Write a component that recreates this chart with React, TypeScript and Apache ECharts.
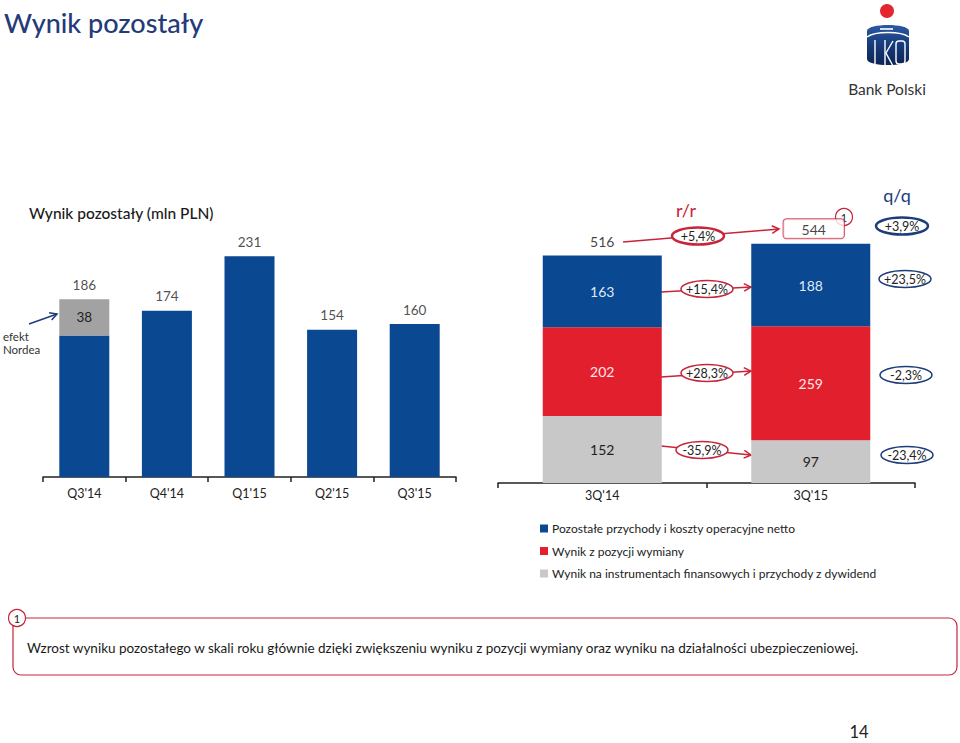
import React, { useEffect, useRef } from "react";
import * as echarts from "echarts";

// ---------- data ----------
const quarters = ["Q3'14", "Q4'14", "Q1'15", "Q2'15", "Q3'15"];
const quarterBase = [148, 174, 231, 154, 160];
const quarterNordea = [38, null, null, null, null];
const quarterTotals = [186, 174, 231, 154, 160];

const periods = ["3Q'14", "3Q'15"];
const otherOps = [163, 188];
const fxResult = [202, 259];
const finInstr = [152, 97];
const periodTotals = [516, 544];

const seriesNames = [
  "Pozostałe przychody i koszty operacyjne netto",
  "Wynik z pozycji wymiany",
  "Wynik na instrumentach finansowych i przychody z dywidend",
];
const yoyTotal = "+5,4%";
const yoyChanges = ["+15,4%", "+28,3%", "-35,9%"];
const qoqTotal = "+3,9%";
const qoqChanges = ["+23,5%", "-2,3%", "-23,4%"];

const BLUE = "#0a4891";
const RED = "#e21f2d";
const GRAY = "#c8c8c8";
const LGRAY = "#a2a2a2";
const ARED = "#c8243a";
const ABLUE = "#1d3c7a";
const FONT = "Lato, 'Noto Sans', sans-serif";

let registered = false;
function registerLogo() {
  if (registered) return;
  registered = true;
  echarts.graphic.registerShape(
    "pkoBody",
    echarts.graphic.extendPath(
      "M1,9 C1,1 43,1 43,9 L43,37 C43,45 1,45 1,37 Z",
      {}
    )
  );
}

function arrow(x1: number, y1: number, x2: number, y2: number, color: string, lw = 1.5) {
  const a = Math.atan2(y2 - y1, x2 - x1);
  const L = 8;
  const s = 0.5;
  const p1 = [x2 - L * Math.cos(a - s), y2 - L * Math.sin(a - s)];
  const p2 = [x2 - L * Math.cos(a + s), y2 - L * Math.sin(a + s)];
  return [
    { type: "line", shape: { x1, y1, x2, y2 }, style: { stroke: color, lineWidth: lw } },
    { type: "polyline", shape: { points: [p1, [x2, y2], p2] }, style: { stroke: color, lineWidth: lw, fill: null } },
  ];
}

function ellipseLabel(cx: number, cy: number, text: string, color: string, lw: number) {
  return [
    { type: "ellipse", shape: { cx, cy, rx: 26, ry: 8.5 }, style: { fill: "#fff", stroke: color, lineWidth: lw } },
    {
      type: "text",
      x: cx,
      y: cy + 0.5,
      style: { text, fill: "#222", fontSize: 12.5, fontFamily: FONT, align: "center", verticalAlign: "middle" },
    },
  ];
}

function numCircle(cx: number, cy: number) {
  return [
    { type: "circle", shape: { cx, cy, r: 8.5 }, style: { fill: "#fff", stroke: ARED, lineWidth: 1.2 } },
    {
      type: "text",
      x: cx,
      y: cy + 0.5,
      style: { text: "1", fill: "#222", fontSize: 11, fontFamily: FONT, align: "center", verticalAlign: "middle" },
    },
  ];
}

export default function App() {
  const ref = useRef<HTMLDivElement>(null);
  useEffect(() => {
    if (!ref.current) return;
    registerLogo();
    const chart = echarts.init(ref.current, null, { renderer: "svg" });

    const graphics: any[] = [
      // page title
      { type: "text", x: 4, y: 22, style: { text: "Wynik pozostały", fill: "#243b78", fontSize: 27, fontFamily: FONT, fontWeight: 500, verticalAlign: "middle" } },
      // logo
      { type: "circle", shape: { cx: 887, cy: 11, r: 7 }, style: { fill: "#e3262f" } },
      {
        type: "pkoBody",
        x: 866,
        y: 22,
        style: {
          fill: new echarts.graphic.LinearGradient(0, 0, 0, 1, [
            { offset: 0, color: "#2c5aa3" },
            { offset: 0.5, color: "#163a7a" },
            { offset: 1, color: "#0d2455" },
          ]),
        },
      },
      { type: "line", shape: { x1: 880, y1: 29, x2: 893, y2: 29 }, style: { stroke: "#fff", lineWidth: 1.6 } },
      { type: "bezierCurve", shape: { x1: 867, y1: 37, x2: 909, y2: 37, cpx1: 875, cpy1: 31, cpx2: 901, cpy2: 31 }, style: { stroke: "#fff", lineWidth: 1.4, fill: null } },
      { type: "line", shape: { x1: 875, y1: 40, x2: 875, y2: 65 }, style: { stroke: "#fff", lineWidth: 1.4 } },
      { type: "line", shape: { x1: 885, y1: 40, x2: 885, y2: 66 }, style: { stroke: "#fff", lineWidth: 1.4 } },
      { type: "polyline", shape: { points: [[893, 41], [886, 53], [893, 66]] }, style: { stroke: "#fff", lineWidth: 1.4, fill: null } },
      { type: "rect", shape: { x: 896, y: 41, width: 9, height: 23, r: 3 }, style: { stroke: "#fff", lineWidth: 1.4, fill: null } },
      { type: "text", x: 887, y: 89, style: { text: "Bank Polski", fill: "#333", fontSize: 15.5, fontFamily: FONT, align: "center", verticalAlign: "middle" } },
      // left chart title
      { type: "text", x: 29, y: 213, style: { text: "Wynik pozostały (mln PLN)", fill: "#1a1a1a", fontSize: 15.5, fontFamily: FONT, fontWeight: 500, verticalAlign: "middle" } },
      // efekt Nordea
      { type: "text", x: 3, y: 336, style: { text: "efekt", fill: "#333", fontSize: 11.5, fontFamily: FONT, verticalAlign: "middle" } },
      { type: "text", x: 3, y: 349, style: { text: "Nordea", fill: "#333", fontSize: 11.5, fontFamily: FONT, verticalAlign: "middle" } },
      ...arrow(29, 324, 57, 314, ABLUE, 1.5),
      // r/r and q/q headers
      { type: "text", x: 686, y: 210, style: { text: "r/r", fill: ARED, fontSize: 18, fontFamily: FONT, align: "center", verticalAlign: "middle" } },
      { type: "text", x: 897, y: 195, style: { text: "q/q", fill: ABLUE, fontSize: 18, fontFamily: FONT, align: "center", verticalAlign: "middle" } },
      // y/y arrows
      ...arrow(623, 242, 779, 229, ARED, 1.5),
      ...arrow(661, 292, 751, 287, ARED, 1.5),
      ...arrow(661, 377, 751, 371, ARED, 1.5),
      ...arrow(661, 446, 751, 455, ARED, 1.5),
      ...ellipseLabel(698, 236, yoyTotal, ARED, 2.5),
      ...ellipseLabel(707, 289, yoyChanges[0], ARED, 1.5),
      ...ellipseLabel(707, 373, yoyChanges[1], ARED, 1.5),
      ...ellipseLabel(702, 450, yoyChanges[2], ARED, 1.5),
      // q/q ellipses
      ...ellipseLabel(902, 226, qoqTotal, ABLUE, 2.5),
      ...ellipseLabel(905, 279, qoqChanges[0], ABLUE, 1.5),
      ...ellipseLabel(906, 375, qoqChanges[1], ABLUE, 1.5),
      ...ellipseLabel(907, 455, qoqChanges[2], ABLUE, 1.5),
      ...numCircle(844, 217),
      // footnote box
      { type: "rect", shape: { x: 13, y: 618, width: 944, height: 57, r: 8 }, style: { fill: "#fff", stroke: ARED, lineWidth: 1.2 } },
      ...numCircle(17, 618),
      { type: "text", x: 27, y: 648, style: { text: "Wzrost wyniku pozostałego w skali roku głównie dzięki zwiększeniu wyniku z pozycji wymiany oraz wyniku na działalności ubezpieczeniowej.", fill: "#1a1a1a", fontSize: 13.5, fontFamily: FONT, verticalAlign: "middle" } },
      { type: "text", x: 859, y: 732, style: { text: "14", fill: "#222", fontSize: 16.5, fontFamily: FONT, align: "center", verticalAlign: "middle" } },
    ];

    const axisCommon = {
      type: "category",
      axisLine: { show: true, lineStyle: { color: "#222", width: 1.5 } },
      axisTick: { show: true, length: 5, lineStyle: { color: "#222", width: 1.5 }, alignWithLabel: false },
      axisLabel: { color: "#222", fontSize: 12.5, fontFamily: FONT },
    };

    chart.setOption({
      animation: false,
      backgroundColor: "#fff",
      textStyle: { fontFamily: FONT },
      grid: [
        { left: 43, top: 238, width: 413, height: 239 },
        { left: 498, top: 219, width: 417, height: 264 },
      ],
      xAxis: [
        { ...axisCommon, gridIndex: 0, data: quarters, axisLabel: { ...axisCommon.axisLabel, margin: 10 } },
        { ...axisCommon, gridIndex: 1, data: periods, axisLabel: { ...axisCommon.axisLabel, margin: 6 } },
      ],
      yAxis: [
        { type: "value", gridIndex: 0, min: 0, max: 250, show: false, splitLine: { show: false } },
        { type: "value", gridIndex: 1, min: 0, max: 600, show: false, splitLine: { show: false } },
      ],
      legend: {
        orient: "vertical",
        left: 535,
        top: 516,
        itemWidth: 8,
        itemHeight: 8,
        itemGap: 7.5,
        icon: "rect",
        selectedMode: false,
        data: seriesNames,
        textStyle: { color: "#222", fontSize: 12, fontFamily: FONT, lineHeight: 15, padding: [0, 0, 0, -1] },
      },
      series: [
        {
          name: "base",
          type: "bar",
          xAxisIndex: 0,
          yAxisIndex: 0,
          stack: "q",
          barWidth: 50,
          data: quarterBase,
          itemStyle: { color: BLUE },
        },
        {
          name: "nordea",
          type: "bar",
          xAxisIndex: 0,
          yAxisIndex: 0,
          stack: "q",
          barWidth: 50,
          data: quarterNordea,
          itemStyle: { color: LGRAY },
          label: { show: true, position: "inside", color: "#222", fontSize: 13.5, fontFamily: FONT },
        },
        {
          name: "qtotals",
          type: "scatter",
          xAxisIndex: 0,
          yAxisIndex: 0,
          symbolSize: 1,
          itemStyle: { color: "transparent" },
          data: quarterTotals,
          label: { show: true, position: "top", distance: 7, color: "#222", fontSize: 13.5, fontFamily: FONT },
        },
        {
          name: seriesNames[2],
          type: "bar",
          xAxisIndex: 1,
          yAxisIndex: 1,
          stack: "p",
          barWidth: 119,
          data: finInstr,
          itemStyle: { color: GRAY },
          label: { show: true, position: "inside", color: "#222", fontSize: 14, fontFamily: FONT },
        },
        {
          name: seriesNames[1],
          type: "bar",
          xAxisIndex: 1,
          yAxisIndex: 1,
          stack: "p",
          barWidth: 119,
          data: fxResult,
          itemStyle: { color: RED },
          label: { show: true, position: "inside", color: "#ffe8ea", fontSize: 14, fontFamily: FONT },
        },
        {
          name: seriesNames[0],
          type: "bar",
          xAxisIndex: 1,
          yAxisIndex: 1,
          stack: "p",
          barWidth: 119,
          data: otherOps,
          itemStyle: { color: BLUE },
          label: { show: true, position: "inside", color: "#dfe8f7", fontSize: 14, fontFamily: FONT },
        },
        {
          name: "ptotals",
          type: "scatter",
          xAxisIndex: 1,
          yAxisIndex: 1,
          symbolSize: 1,
          itemStyle: { color: "transparent" },
          data: [
            { value: periodTotals[0], label: { distance: 7 } },
            {
              value: periodTotals[1],
              label: {
                distance: 5,
                backgroundColor: "#fff",
                borderColor: ARED,
                borderWidth: 1,
                borderRadius: 3,
                padding: [3, 18, 2, 18],
                offset: [3, 0],
              },
            },
          ],
          label: { show: true, position: "top", color: "#111", fontSize: 14, fontFamily: FONT },
        },
      ],
      graphic: { elements: graphics },
    });

    return () => chart.dispose();
  }, []);

  return (
    <div
      ref={ref}
      style={{ position: "absolute", left: 0, top: 0, width: 960, height: 743, background: "#fff" }}
    />
  );
}
